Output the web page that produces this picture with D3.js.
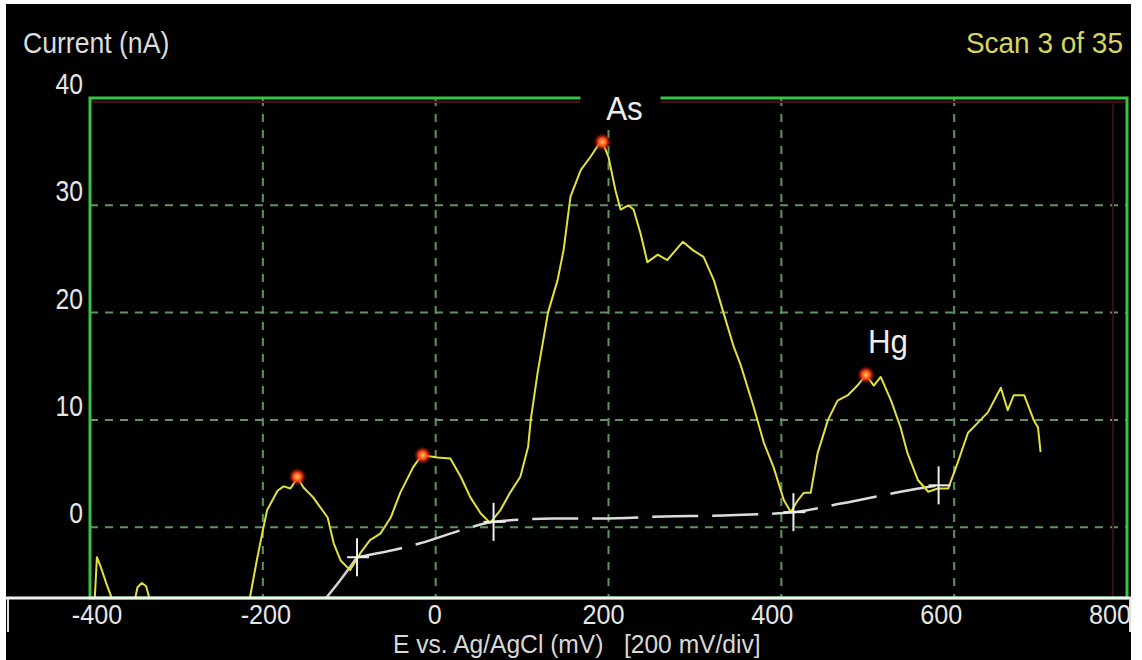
<!DOCTYPE html>
<html>
<head>
<meta charset="utf-8">
<script src="https://cdn.jsdelivr.net/npm/d3@7"></script>
<style>
  body { margin: 0; background: #fff; }
  svg { display: block; }
  text { white-space: pre; }
</style>
</head>
<body>
<div class="canvas"></div>
<script>
// scan data: potential (mV) and current (nA)
const potential = [-396, -392, -388, -380, -372, -360, -350, -345, -340, -335, -330, -320, -260, -225, -218, -215, -207, -200, -195, -183, -176, -168, -160, -153, -142, -125, -118, -110, -99, -87, -76, -64, -52, -41, -26, -18, -15, 2, 17, 29, 40, 52, 63, 75, 86, 98, 107, 110, 118, 130, 141, 148, 156, 168, 179, 188, 193, 200, 208, 214, 223, 229, 237, 245, 257, 268, 286, 298, 310, 322, 333, 345, 353, 368, 380, 391, 403, 411, 419, 426, 434, 442, 454, 465, 477, 488, 498, 507, 515, 527, 538, 546, 558, 570, 581, 593, 604, 616, 627, 639, 654, 662, 669, 681, 692, 697, 700];
const current = [-9, -2.8, -3.6, -5.5, -7.2, -9, -7.5, -5.6, -5.2, -5.5, -7, -9, -9.5, -9, -8.5, -6.6, -3.1, -0.3, 1.6, 3.4, 3.8, 3.6, 4.6, 3.7, 2.8, 0.9, -1.5, -3.1, -4.0, -2.4, -1.2, -0.6, 0.9, 3.2, 5.6, 6.5, 6.7, 6.5, 6.4, 4.7, 2.8, 1.3, 0.4, 1.6, 3.2, 4.7, 7.5, 10.0, 14.4, 20.0, 23.0, 25.8, 30.8, 33.3, 34.5, 35.6, 35.9, 34.5, 31.4, 29.6, 30.0, 29.6, 27.4, 24.7, 25.4, 24.9, 26.6, 25.8, 25.2, 23.0, 20.0, 16.8, 15.1, 11.2, 7.8, 5.6, 2.5, 1.4, 2.5, 3.2, 3.2, 6.9, 10.0, 11.8, 12.3, 13.2, 14.2, 13.2, 14.0, 11.8, 9.3, 6.9, 4.4, 3.3, 3.6, 3.6, 6.0, 8.8, 9.7, 10.7, 13.0, 10.9, 12.3, 12.3, 10.0, 9.3, 7.0];

// baseline under the peaks
const baseE = [-135, -110, -91, -37, -18, 37, 67, 136, 191, 264, 333, 414, 469, 538, 582];
const baseI = [-7.4, -4.9, -2.8, -1.9, -1.5, -0.1, 0.5, 0.8, 0.8, 1.0, 1.1, 1.4, 2.2, 3.3, 3.9];

// integration limits (crosses)
const markE = [-91, 67, 414, 582];
const markI = [-2.8, 0.5, 1.4, 3.9];

// detected peaks
const peakE = [-160, -15, 193, 498];
const peakI = [4.7, 6.7, 35.9, 14.2];
const peakNames = ['', '', 'As', 'Hg'];

const xTicks = [-400, -200, 0, 200, 400, 600, 800];
const yTicks = [0, 10, 20, 30, 40];

const W = 1142, H = 660;
const yMin = -6.6;

const svg = d3.select('.canvas')
  .append('svg')
  .attr('width', W)
  .attr('height', H);

// black screen area
svg.append('rect')
  .attr('x', 6).attr('y', 4)
  .attr('width', 1125).attr('height', H - 4)
  .attr('fill', '#000');

// scales
const x = d3.scaleLinear().domain([-400, 800]).range([90, 1127]);
const y = d3.scaleLinear().domain([yMin, 40]).range([598, 98]);
// labels on the scope are drawn a bit compressed
const xLab = d3.scaleLinear().domain([-400, 800]).range([97, 1110]);

const defs = svg.append('defs');
defs.append('clipPath').attr('id', 'plot-clip')
  .append('rect')
  .attr('x', x(-400)).attr('y', y(40))
  .attr('width', x(800) - x(-400)).attr('height', y(yMin) - y(40));

const glow = defs.append('radialGradient').attr('id', 'glow');
glow.append('stop').attr('offset', '0%').attr('stop-color', '#ffcf50');
glow.append('stop').attr('offset', '45%').attr('stop-color', '#ff4a1a');
glow.append('stop').attr('offset', '100%').attr('stop-color', '#b00000').attr('stop-opacity', 0);

// grid
const gridColor = '#5e965e';
const grid = svg.append('g');
grid.selectAll('line.vg')
  .data(xTicks.filter(d => d > -400 && d < 800))
  .enter().append('line')
  .attr('x1', d => x(d)).attr('x2', d => x(d))
  .attr('y1', y(40)).attr('y2', y(yMin))
  .attr('stroke', gridColor).attr('stroke-width', 2)
  .attr('stroke-dasharray', '8,8');
grid.selectAll('line.hg')
  .data(yTicks.filter(d => d < 40))
  .enter().append('line')
  .attr('x1', x(-400)).attr('x2', x(800))
  .attr('y1', d => y(d)).attr('y2', d => y(d))
  .attr('stroke', gridColor).attr('stroke-width', 2)
  .attr('stroke-dasharray', '8,7');

// faint cursor lines
svg.append('line')
  .attr('x1', x(-400)).attr('x2', x(800))
  .attr('y1', y(40) + 4).attr('y2', y(40) + 4)
  .attr('stroke', '#4a0d0d').attr('stroke-width', 2);
svg.append('line')
  .attr('x1', x(800) - 14).attr('x2', x(800) - 14)
  .attr('y1', y(40) + 4).attr('y2', y(yMin))
  .attr('stroke', '#3a0d0d').attr('stroke-width', 2);

// frame
svg.append('rect')
  .attr('x', x(-400)).attr('y', y(40))
  .attr('width', x(800) - x(-400)).attr('height', y(yMin) - y(40))
  .attr('fill', 'none')
  .attr('stroke', '#36c443').attr('stroke-width', 3);

const plot = svg.append('g').attr('clip-path', 'url(#plot-clip)');

// baseline
const baseData = baseE.map((e, i) => ({ e, i: baseI[i] }));
const baseLine = d3.line().x(d => x(d.e)).y(d => y(d.i)).curve(d3.curveMonotoneX);
plot.append('path')
  .attr('d', baseLine(baseData.filter(d => d.e <= markE[0])))
  .attr('fill', 'none').attr('stroke', '#cfcfcf').attr('stroke-width', 2.5);
plot.append('path')
  .attr('d', baseLine(baseData.filter(d => d.e >= markE[0])))
  .attr('fill', 'none').attr('stroke', '#dcdcdc').attr('stroke-width', 2.5)
  .attr('stroke-dasharray', '46,14');

// scan curve
const scan = potential.map((e, i) => ({ e, i: current[i] }));
plot.append('path')
  .attr('d', d3.line().x(d => x(d.e)).y(d => y(d.i))(scan))
  .attr('fill', 'none')
  .attr('stroke', '#e2e23e')
  .attr('stroke-width', 2)
  .attr('stroke-linejoin', 'round');

// crosses at integration limits
const marks = plot.selectAll('g.mark')
  .data(markE.map((e, i) => ({ e, i: markI[i] })))
  .enter().append('g')
  .attr('transform', d => `translate(${x(d.e)}, ${y(d.i)})`);
marks.append('line')
  .attr('x1', 0).attr('x2', 0).attr('y1', -19).attr('y2', 19)
  .attr('stroke', '#eeeeee').attr('stroke-width', 2);
marks.append('line')
  .attr('x1', -10).attr('x2', 12).attr('y1', 0).attr('y2', 0)
  .attr('stroke', '#eeeeee').attr('stroke-width', 2);

// peak markers
const peaks = peakE.map((e, i) => ({ e, i: peakI[i], name: peakNames[i] }));
plot.selectAll('circle.peak')
  .data(peaks)
  .enter().append('circle')
  .attr('cx', d => x(d.e)).attr('cy', d => y(d.i))
  .attr('r', 9)
  .attr('fill', 'url(#glow)');

// helper for the stretched scope font
const label = (parent, tx, ty, str, opts) => {
  const g = parent.append('g')
    .attr('transform', `translate(${tx}, ${ty}) scale(${opts.sx || 1}, ${opts.sy || 1})`);
  g.append('text')
    .attr('text-anchor', opts.anchor || 'start')
    .attr('font-family', 'Liberation Sans, Arial, sans-serif')
    .attr('font-size', opts.size)
    .attr('fill', opts.fill || '#e6e6e6')
    .text(str);
  return g;
};

// peak names with a black box behind
peaks.filter(d => d.name).forEach(d => {
  const px = x(d.e) + 22, py = y(d.i) - 22;
  svg.append('rect')
    .attr('x', px - 44).attr('y', py - 30)
    .attr('width', 80).attr('height', 34)
    .attr('fill', '#000');
  label(svg, px, py, d.name, { size: 33, anchor: 'middle', sx: 0.95, fill: '#eeeeee' });
});

// tick labels
yTicks.forEach(v => label(svg, 83, y(v) - 4, v, { size: 28, anchor: 'end', sx: 0.88, sy: 1.05 }));
xTicks.forEach(v => label(svg, xLab(v), 624, v, { size: 28, anchor: 'middle', sx: 0.9, sy: 1.0 }));

// bottom axis line and end ticks
svg.append('line')
  .attr('x1', 6).attr('x2', 1131)
  .attr('y1', y(yMin)).attr('y2', y(yMin))
  .attr('stroke', '#f2f2f2').attr('stroke-width', 3);
[8, 1130].forEach(px => {
  svg.append('line')
    .attr('x1', px).attr('x2', px)
    .attr('y1', y(yMin)).attr('y2', 632)
    .attr('stroke', '#e0e0e0').attr('stroke-width', 2);
});

// titles
label(svg, 23, 53, 'Current (nA)', { size: 28, sx: 0.95, sy: 1.05, fill: '#dcdcdc' });
label(svg, 1123, 53, 'Scan 3 of 35', { size: 28, anchor: 'end', sy: 1.05, fill: '#d6d65c' });
label(svg, 393, 653, 'E vs. Ag/AgCl (mV)   [200 mV/div]', { size: 24.6, sy: 1.08, fill: '#d8d8d8' });
</script>
</body>
</html>
